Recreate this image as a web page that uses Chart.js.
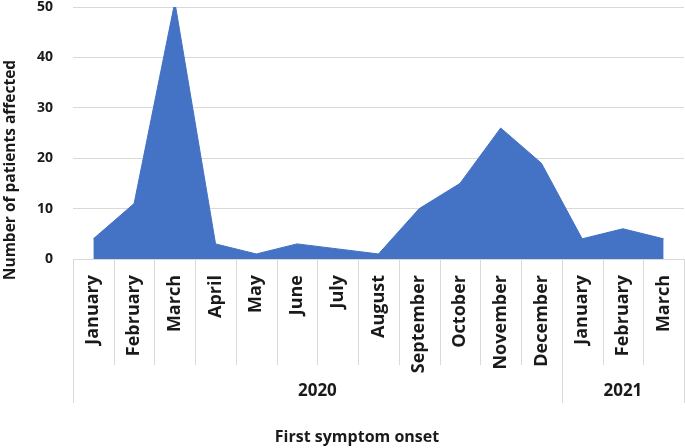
<!DOCTYPE html>
<html>
<head>
<meta charset="utf-8">
<script src="https://cdn.jsdelivr.net/npm/chart.js@4.4.1/dist/chart.umd.min.js"></script>
<style>
  html, body { margin: 0; padding: 0; background: #fff; }
  #wrap { width: 685px; height: 448px; position: relative; }
</style>
</head>
<body>
<div id="wrap"><canvas id="myChart" width="685" height="448"></canvas></div>
<script>
const months = ['January', 'February', 'March', 'April', 'May', 'June', 'July', 'August',
  'September', 'October', 'November', 'December', 'January', 'February', 'March'];
const patients = [4, 11, 51, 3, 1, 3, 2, 1, 10, 15, 26, 19, 4, 6, 4];
const years = ['2020', '2021'];
const yearSpans = [12, 3]; // months in each year group
const yTicks = [0, 10, 20, 30, 40, 50];

const FONT = '"Open Sans", "DejaVu Sans", sans-serif';
const TXT = '#1a1a1a';
const GRID = '#d9d9d9';

// month separators, year row and axis titles
const groupAxis = {
  id: 'groupAxis',
  afterDraw(chart) {
    const ctx = chart.ctx;
    const x = chart.scales.x;
    const top = chart.chartArea.bottom;
    const n = months.length;
    const edge = i => {
      if (i === 0) return x.left;
      if (i === n) return x.right;
      return (x.getPixelForValue(i - 1) + x.getPixelForValue(i)) / 2;
    };
    ctx.save();
    ctx.strokeStyle = GRID;
    ctx.lineWidth = 1;
    for (let i = 0; i <= n; i++) {
      const px = Math.round(edge(i)) + 0.5;
      ctx.beginPath();
      ctx.moveTo(px, top);
      ctx.lineTo(px, 365);
      ctx.stroke();
    }
    // year groups
    ctx.fillStyle = TXT;
    ctx.font = 'bold 17px ' + FONT;
    ctx.textAlign = 'center';
    ctx.textBaseline = 'middle';
    let start = 0;
    years.forEach((yr, k) => {
      const end = start + yearSpans[k];
      [start, end].forEach(b => {
        const px = Math.round(edge(b)) + 0.5;
        ctx.beginPath();
        ctx.moveTo(px, 365);
        ctx.lineTo(px, 403);
        ctx.stroke();
      });
      ctx.fillText(yr, (edge(start) + edge(end)) / 2, 391);
      start = end;
    });
    // axis titles
    ctx.font = 'bold 16px ' + FONT;
    ctx.fillText('First symptom onset', 357, 437);
    ctx.font = 'bold 15.5px ' + FONT;
    ctx.translate(11, 170);
    ctx.rotate(-Math.PI / 2);
    ctx.fillText('Number of patients affected', 0, 0);
    ctx.restore();
  }
};

const ctx = document.getElementById('myChart').getContext('2d');
new Chart(ctx, {
  type: 'line',
  data: {
    labels: months,
    datasets: [{
      data: patients,
      fill: 'origin',
      backgroundColor: '#4472C4',
      borderColor: '#4472C4',
      borderWidth: 1,
      pointRadius: 0,
      tension: 0
    }]
  },
  options: {
    responsive: false,
    animation: false,
    layout: { padding: { top: 7, right: 1, left: 0, bottom: 0 } },
    plugins: { legend: { display: false }, tooltip: { enabled: false } },
    scales: {
      x: {
        type: 'category',
        offset: true,
        grid: { display: false, drawTicks: false },
        border: { display: false },
        ticks: {
          autoSkip: false,
          minRotation: 90,
          maxRotation: 90,
          padding: 16,
          color: TXT,
          font: { family: FONT, size: 18, weight: 'bold' }
        },
        afterFit: s => {
          s.height = 189;
          s.paddingLeft = 0;
          s.paddingRight = 0;
        }
      },
      y: {
        min: 0,
        max: 50,
        afterBuildTicks: s => { s.ticks = yTicks.map(v => ({ value: v })); },
        grid: { color: GRID, drawTicks: false },
        border: { display: false },
        ticks: {
          padding: 20,
          color: TXT,
          font: { family: FONT, size: 14, weight: 'bold' }
        },
        afterFit: s => {
          s.width = 73;
          s.paddingTop = 0;
          s.paddingBottom = 0;
        }
      }
    }
  },
  plugins: [groupAxis]
});
</script>
</body>
</html>
